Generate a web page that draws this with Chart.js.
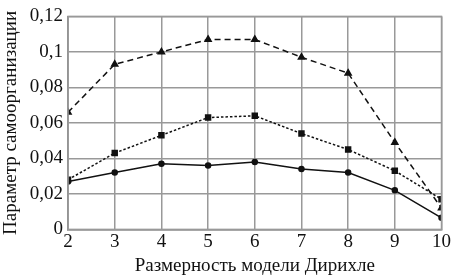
<!DOCTYPE html>
<html><head><meta charset="utf-8">
<script src="https://cdn.jsdelivr.net/npm/chart.js@4/dist/chart.umd.min.js"></script>
<style>html,body{margin:0;padding:0;background:#fff}#wrap{width:452px;height:277px}</style>
</head><body><div id="wrap"><canvas id="c" width="452" height="277"></canvas></div>
<script>
const categories = [2, 3, 4, 5, 6, 7, 8, 9, 10];
const seriesTop = [0.066, 0.093, 0.100, 0.107, 0.107, 0.097, 0.088, 0.049, 0.012];
const seriesMid = [0.028, 0.043, 0.053, 0.063, 0.064, 0.054, 0.045, 0.033, 0.017];
const seriesLow = [0.027, 0.032, 0.037, 0.036, 0.038, 0.034, 0.032, 0.022, 0.0065];
const yTickLabels = {0: '0', 0.02: '0,02', 0.04: '0,04', 0.06: '0,06', 0.08: '0,08', 0.1: '0,1', 0.12: '0,12'};
const xTitle = 'Размерность модели Дирихле';
const yTitle = 'Параметр самоорганизации';

const pts = arr => categories.map((c, i) => ({x: c, y: arr[i]}));
const font = {family: '"Liberation Serif", "Times New Roman", serif', size: 19};

new Chart(document.getElementById('c'), {
  type: 'line',
  data: {datasets: [
    {data: pts(seriesTop), borderColor: '#111', backgroundColor: '#111', borderWidth: 1.5, borderDash: [6, 4], pointStyle: 'triangle', pointRadius: 3.5, tension: 0},
    {data: pts(seriesMid), borderColor: '#111', backgroundColor: '#111', borderWidth: 1.5, borderDash: [2.5, 2], pointStyle: 'rect', pointRadius: 3.5, tension: 0},
    {data: pts(seriesLow), borderColor: '#111', backgroundColor: '#111', borderWidth: 1.5, pointStyle: 'circle', pointRadius: 2.5, tension: 0}
  ]},
  options: {
    responsive: false, animation: false,
    layout: {padding: {top: 7, right: 8, left: 0, bottom: 0}},
    plugins: {legend: {display: false}, tooltip: {enabled: false}},
    scales: {
      x: {type: 'linear', min: 2, max: 10,
        ticks: {stepSize: 1, color: '#111', font: font, padding: 1, maxRotation: 0},
        grid: {color: '#999', lineWidth: 1.5, drawTicks: false},
        border: {color: '#888', width: 1.5},
        title: {display: true, text: xTitle, color: '#111', font: font, padding: {top: 0, bottom: 0}}},
      y: {min: 0, max: 0.12,
        ticks: {stepSize: 0.02, color: '#111', font: font, padding: 5,
          callback: v => yTickLabels[Math.round(v * 100) / 100] ?? ''},
        grid: {color: '#999', lineWidth: 1.5, drawTicks: false},
        border: {color: '#888', width: 1.5},
        title: {display: true, text: yTitle, color: '#111', font: font, padding: {top: 0, bottom: 2}}}
    }
  },
  plugins: [{id: 'frame', afterDraw(ch) {
    const a = ch.chartArea, g = ch.ctx;
    g.save(); g.strokeStyle = '#999'; g.lineWidth = 1.5;
    g.strokeRect(a.left, a.top, a.right - a.left, a.bottom - a.top);
    g.restore();
  }}]
});
</script></body></html>
